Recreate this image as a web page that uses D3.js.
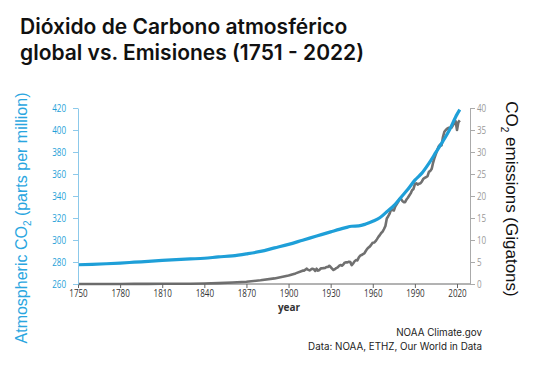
<!DOCTYPE html>
<html><head><meta charset="utf-8">
<script src="https://cdn.jsdelivr.net/npm/d3@7"></script>
<style>
html,body{margin:0;padding:0;background:#fff;}
svg{display:block;}
.tick text{font-family:"Open Sans",sans-serif;}
</style></head>
<body>
<svg id="chart" width="534" height="378"></svg>
<script>
// ---- data ----
const co2Years = [1750,1760,1770,1780,1790,1800,1810,1820,1830,1840,1850,1860,1870,1880,1890,1900,1910,1920,1930,1940,1945,1950,1955,1960,1965,1970,1975,1980,1985,1990,1995,2000,2005,2010,2015,2020,2022];
const co2Ppm   = [277.5,277.9,278.4,279.0,279.8,280.6,281.4,282.2,282.8,283.4,284.6,285.6,287.4,289.6,292.8,296.0,299.8,303.6,307.4,311.0,312.5,312.8,314.5,317.0,320.2,325.7,331.2,338.7,346.1,354.4,360.8,369.7,379.8,389.9,401.0,414.2,418.5];

const emYears = [1750,1760,1770,1780,1790,1800,1810,1820,1830,1840,1850,1860,1870,1880,1890,1900,1905,1910,1911,1912,1913,1914,1915,1916,1917,1918,1919,1920,1921,1922,1923,1924,1925,1926,1927,1928,1929,1930,1931,1932,1933,1934,1935,1936,1937,1938,1939,1940,1941,1942,1943,1944,1945,1946,1947,1948,1949,1950,1951,1952,1953,1954,1955,1956,1957,1958,1959,1960,1961,1962,1963,1964,1965,1966,1967,1968,1969,1970,1971,1972,1973,1974,1975,1976,1977,1978,1979,1980,1981,1982,1983,1984,1985,1986,1987,1988,1989,1990,1991,1992,1993,1994,1995,1996,1997,1998,1999,2000,2001,2002,2003,2004,2005,2006,2007,2008,2009,2010,2011,2012,2013,2014,2015,2016,2017,2018,2019,2020,2021,2022];
const emGt = [0.01,0.01,0.01,0.01,0.02,0.03,0.04,0.05,0.07,0.10,0.20,0.33,0.52,0.84,1.27,1.95,2.41,3.03,3.05,3.25,3.49,3.21,3.09,3.30,3.48,3.38,2.97,3.47,3.04,3.18,3.57,3.56,3.61,3.62,3.87,3.87,4.15,3.86,3.50,3.18,3.37,3.62,3.78,4.11,4.33,4.15,4.43,4.85,4.93,4.92,5.07,4.98,4.28,4.67,5.14,5.43,5.35,6.00,6.44,6.58,6.79,6.96,7.49,7.98,8.30,8.55,8.99,9.39,9.42,9.74,10.2,10.7,11.1,11.6,11.9,12.5,13.2,14.9,15.4,16.0,16.9,16.8,16.7,17.6,18.1,18.6,19.3,19.4,18.9,18.6,18.6,19.2,19.6,20.1,20.6,21.3,21.6,22.7,22.9,22.6,22.8,22.9,23.3,23.9,24.1,24.3,24.5,25.5,25.7,26.2,27.6,28.7,29.6,30.5,31.3,31.7,31.5,33.4,34.6,35.0,35.3,35.5,35.5,35.5,36.0,36.7,37.0,35.0,36.8,37.2];

const xTicks = [1750,1780,1810,1840,1870,1900,1930,1960,1990,2020];
const leftTicks = [260,280,300,320,340,360,380,400,420];
const rightTicks = [0,5,10,15,20,25,30,35,40];

const titleLines = ["Dióxido de Carbono atmosférico","global vs. Emisiones (1751 - 2022)"];
const sourceLines = ["NOAA Climate.gov","Data: NOAA, ETHZ, Our World in Data"];

// ---- layout ----
const svg = d3.select("#chart");
const pL = 78, pR = 470, pT = 108, pB = 284;
const x = d3.scaleLinear().domain([1750,2020]).range([pL,457]);
const yL = d3.scaleLinear().domain([260,420]).range([pB,pT]);
const yR = d3.scaleLinear().domain([0,40]).range([pB,pT]);

const blue = "#1e9fd8", grey = "#707070";
const narrow = sel => sel.each(function(){
  const t = d3.select(this); const s = t.text();
  t.attr("textLength", s.length*4.6).attr("lengthAdjust","spacingAndGlyphs");
});

// title
svg.append("g").selectAll("text").data(titleLines).join("text")
  .attr("x",20).attr("y",(d,i)=>34+i*26)
  .attr("font-family","Inter, sans-serif").attr("font-weight",600)
  .attr("font-size",21).attr("fill","#111").text(d=>d);

// grey emissions line
svg.append("path")
  .datum(emYears.map((y,i)=>[y,emGt[i]]))
  .attr("fill","none").attr("stroke",grey).attr("stroke-width",2.6)
  .attr("stroke-linejoin","round")
  .attr("d",d3.line().x(d=>x(d[0])).y(d=>yR(d[1])));

// bottom axis
const gx = svg.append("g").attr("transform",`translate(0,${pB})`)
  .call(d3.axisBottom(x).tickValues(xTicks).tickFormat(d3.format("d")).tickSize(4).tickSizeOuter(0));
gx.select(".domain").attr("d",`M${pL},0H${pR}`).attr("stroke","#666").attr("stroke-width",1);
gx.selectAll(".tick line").attr("stroke","#666");
gx.selectAll(".tick text").attr("font-size",10).attr("fill","#333").attr("y",6).call(narrow);

// blue co2 line
svg.append("path")
  .datum(co2Years.map((y,i)=>[y,co2Ppm[i]]))
  .attr("fill","none").attr("stroke",blue).attr("stroke-width",3.2)
  .attr("stroke-linejoin","round")
  .attr("d",d3.line().curve(d3.curveMonotoneX).x(d=>x(d[0])).y(d=>yL(d[1])));

// left axis
const gl = svg.append("g").attr("transform",`translate(${pL},0)`)
  .call(d3.axisLeft(yL).tickValues(leftTicks).tickSize(5).tickSizeOuter(0));
gl.select(".domain").attr("stroke","#8cc9ea");
gl.selectAll(".tick line").attr("stroke","#8cc9ea");
gl.selectAll(".tick text").attr("font-size",10).attr("fill",blue).attr("x",-12).call(narrow);

// right axis
const gr = svg.append("g").attr("transform",`translate(${pR},0)`)
  .call(d3.axisRight(yR).tickValues(rightTicks).tickSize(5).tickSizeOuter(0));
gr.select(".domain").attr("stroke","#aaa");
gr.selectAll(".tick line").attr("stroke","#aaa");
gr.selectAll(".tick text").attr("font-size",10).attr("fill","#999").attr("x",7).call(narrow);

// x axis label
svg.append("text").attr("x",289).attr("y",311).attr("text-anchor","middle")
  .attr("font-family","Open Sans, sans-serif").attr("font-weight",700)
  .attr("font-size",10).attr("fill","#333").text("year");

// left axis title
const lt = svg.append("text").attr("transform","translate(27,218) rotate(-90)")
  .attr("text-anchor","middle").attr("font-family","Liberation Sans, Arial, sans-serif")
  .attr("font-size",16).attr("fill","#2aa6df");
lt.append("tspan").text("Atmospheric CO");
lt.append("tspan").attr("font-size",10).attr("dy",4).text("2");
lt.append("tspan").attr("dy",-4).text(" (parts per million)");

// right axis title
const rt = svg.append("text").attr("transform","translate(506,199) rotate(90)")
  .attr("text-anchor","middle").attr("font-family","Liberation Sans, Arial, sans-serif")
  .attr("font-size",17).attr("fill","#111");
rt.append("tspan").text("CO");
rt.append("tspan").attr("font-size",10).attr("dy",5).text("2");
rt.append("tspan").attr("dy",-5).text(" emissions (Gigatons)");

// source
svg.append("g").selectAll("text").data(sourceLines).join("text")
  .attr("x",482).attr("y",(d,i)=>336+i*14).attr("text-anchor","end")
  .attr("font-family","Inter, sans-serif").attr("font-size",9.8).attr("fill","#222")
  .text(d=>d);
</script>
</body></html>
